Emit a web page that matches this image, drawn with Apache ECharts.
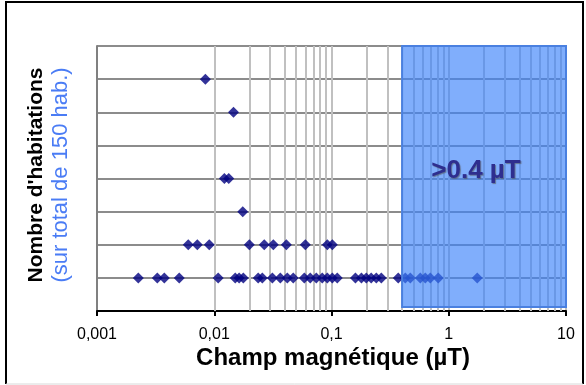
<!DOCTYPE html>
<html>
<head>
<meta charset="utf-8">
<script src="https://cdn.jsdelivr.net/npm/echarts@6/dist/echarts.min.js"></script>
<style>
  html, body { margin: 0; padding: 0; background: #fff; }
  #main { width: 586px; height: 385px; }
</style>
</head>
<body>
<div id="main"></div>
<script>
// champ mesuré (µT) pour chaque rangée de points (rangée = nombre d'habitations)
var row1 = [0.00225, 0.00327, 0.00375, 0.00503, 0.0108, 0.0151, 0.0163, 0.0177, 0.0237, 0.0257,
  0.0313, 0.0366, 0.042, 0.0472, 0.0586, 0.0659, 0.0742, 0.0834, 0.0921, 0.1016, 0.112,
  0.16, 0.18, 0.198, 0.218, 0.241, 0.266, 0.371, 0.426, 0.47, 0.572, 0.631, 0.696, 0.814, 1.75];
var row2 = [0.006, 0.00717, 0.00907, 0.0199, 0.0267, 0.0319, 0.0412, 0.0598, 0.0921, 0.1016];
var row3 = [0.0175];
var row4 = [0.0122, 0.0133];
var row6 = [0.0146];
var row7 = [0.0084];
var tickLabels = ['0,001', '0,01', '0,1', '1', '10'];
var minorLines = [0.002, 0.003, 0.004, 0.005, 0.006, 0.007, 0.008, 0.009,
  0.02, 0.03, 0.04, 0.05, 0.06, 0.07, 0.08, 0.09,
  0.2, 0.3, 0.4, 0.5, 0.6, 0.7, 0.8, 0.9,
  2, 3, 4, 5, 6, 7, 8, 9];
var seuil = 0.4;

function toPoints(arr, n) {
  return arr.map(function (v) { return [v, n]; });
}
var points = [].concat(toPoints(row1, 1), toPoints(row2, 2), toPoints(row3, 3),
  toPoints(row4, 4), toPoints(row6, 6), toPoints(row7, 7));

var chart = echarts.init(document.getElementById('main'));

var option = {
  backgroundColor: '#fff',
  animation: false,
  grid: { left: 97, right: 20, top: 46, bottom: 74 },
  xAxis: {
    type: 'log',
    logBase: 10,
    min: 0.001,
    max: 10,
    axisLine: { lineStyle: { color: '#000', width: 2 } },
    axisTick: { show: true, length: 5, lineStyle: { color: '#000', width: 2 } },
    axisLabel: {
      color: '#000', fontFamily: 'Liberation Sans, Arial', fontSize: 16, margin: 16,
      formatter: function (v) {
        var i = Math.round(Math.log10(v)) + 3;
        return tickLabels[i] || '';
      }
    },
    splitLine: { show: true, lineStyle: { color: '#c0c0c0', width: 2 } }
  },
  yAxis: {
    type: 'value',
    min: 0,
    max: 8,
    interval: 1,
    axisLine: { show: true, lineStyle: { color: '#808080', width: 2 } },
    axisTick: { show: false },
    axisLabel: { show: false },
    splitLine: { show: true, lineStyle: { color: '#8c8c8c', width: 2 } }
  },
  graphic: [
    { type: 'line', shape: { x1: 6, y1: 1, x2: 6, y2: 384 }, style: { stroke: '#000', lineWidth: 2 } },
    { type: 'line', shape: { x1: 6, y1: 2, x2: 583, y2: 2 }, style: { stroke: '#000', lineWidth: 2 } },
    { type: 'line', shape: { x1: 583, y1: 1, x2: 583, y2: 384 }, style: { stroke: '#000', lineWidth: 2 } },
    { type: 'line', shape: { x1: 6, y1: 384, x2: 583, y2: 384 }, style: { stroke: '#d8d8d8', lineWidth: 1 } },
    {
      type: 'text', x: 36, y: 175, rotation: Math.PI / 2,
      style: { text: "Nombre d'habitations", fill: '#000', font: 'bold 21px "Liberation Sans", Arial', align: 'center', verticalAlign: 'middle' }
    },
    {
      type: 'text', x: 61, y: 175, rotation: Math.PI / 2,
      style: { text: '(sur total de 150 hab.)', fill: '#4a7cf5', font: '22px "Liberation Sans", Arial', align: 'center', verticalAlign: 'middle' }
    },
    {
      type: 'text', x: 333, y: 358,
      style: { text: 'Champ magnétique (µT)', fill: '#000', font: 'bold 24px "Liberation Sans", Arial', align: 'center', verticalAlign: 'middle' }
    },
    {
      type: 'text', x: 476, y: 171, z: 100,
      style: {
        text: '>0.4 µT', fill: '#2e2e8f', font: 'bold 26px "Liberation Sans", Arial', align: 'center', verticalAlign: 'middle',
        textShadowColor: 'rgba(80,80,80,0.6)', textShadowOffsetX: 1, textShadowOffsetY: 1, textShadowBlur: 1
      }
    }
  ],
  series: [
    {
      type: 'scatter',
      data: [],
      silent: true,
      z: 1,
      markLine: {
        silent: true,
        z: 1,
        symbol: ['none', 'none'],
        label: { show: false },
        lineStyle: { color: '#c0c0c0', width: 2, type: 'solid' },
        data: minorLines.map(function (v) { return { xAxis: v }; })
      }
    },
    {
      type: 'scatter',
      symbol: 'diamond',
      symbolSize: 11,
      z: 3,
      itemStyle: { color: '#000080' },
      data: points
    },
    {
      type: 'scatter',
      data: [],
      z: 6,
      silent: true,
      markArea: {
        silent: true,
        z: 6,
        itemStyle: { color: 'rgba(60,130,250,0.65)', borderColor: '#4a80e0', borderWidth: 2 },
        data: [[{ coord: [seuil, 8.06] }, { coord: [10, 0.12] }]]
      }
    }
  ]
};

chart.setOption(option);
</script>
</body>
</html>
